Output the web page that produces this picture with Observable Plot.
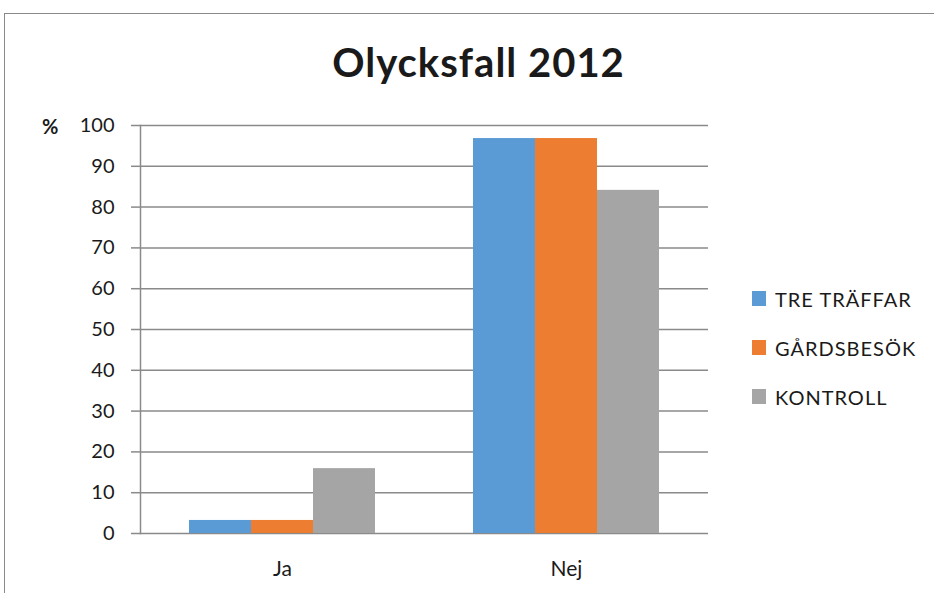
<!DOCTYPE html>
<html>
<head>
<meta charset="utf-8">
<script src="https://cdn.jsdelivr.net/npm/d3@7"></script>
<script src="https://cdn.jsdelivr.net/npm/@observablehq/plot@0.6"></script>
<style>
  body { margin: 0; background: #fff; font-family: Lato, "Open Sans", sans-serif; }
  #wrap { position: relative; width: 934px; height: 593px; overflow: hidden; background: #fff; }
  #border { position: absolute; left: 4px; top: 13px; width: 960px; height: 620px;
            border-left: 1.5px solid #8a8a8a; border-top: 1.5px solid #8a8a8a; pointer-events: none; }
  #title { position: absolute; left: 0; top: 0; width: 957px; height: 100px; text-align: center;
           font-weight: 700; font-size: 40px; line-height: 1; color: #1a1a1a; letter-spacing: 1px; }
  #title span { position: absolute; left: 0; right: 0; top: 42px; }
  #pct { position: absolute; left: 42px; top: 114px; font-weight: 700; font-size: 20px; color: #1a1a1a; }
  #chart { position: absolute; left: 0; top: 100px; }
  #legend { position: absolute; left: 752px; top: 274px; }
  .item { display: flex; align-items: center; height: 49px; }
  .sw { width: 14px; height: 15px; margin-right: 9px; flex: none; }
  .lab { font-size: 20px; color: #1a1a1a; letter-spacing: 1px; }
</style>
</head>
<body>
<div id="wrap">
  <div id="title"><span>Olycksfall 2012</span></div>
  <div id="pct">%</div>
  <div id="chart"></div>
  <div id="legend"></div>
  <div id="border"></div>
</div>
<script>
const categories = ["Ja", "Nej"];
const series = ["TRE TRÄFFAR", "GÅRDSBESÖK", "KONTROLL"];
const treTraffar = [3.2, 96.8];
const gardsbesok = [3.2, 96.8];
const kontroll = [15.9, 84.1];
const yTicks = [0, 10, 20, 30, 40, 50, 60, 70, 80, 90, 100];
const colors = ["#5B9BD5", "#ED7D31", "#A5A5A5"];

const seriesValues = [treTraffar, gardsbesok, kontroll];
const table = [];
categories.forEach((c, i) => {
  series.forEach((s, j) => table.push({category: c, series: s, value: seriesValues[j][i]}));
});

const gridColor = "#8a8a8a";

const chart = Plot.plot({
  width: 934,
  height: 493,
  marginLeft: 139,
  marginRight: 226,
  marginTop: 25,
  marginBottom: 60,
  style: {fontFamily: "Lato, 'Open Sans', sans-serif", fontSize: "20px", color: "#1a1a1a", background: "transparent", overflow: "visible"},
  fx: {domain: categories, paddingInner: 0, paddingOuter: 0, label: null},
  x: {domain: series, paddingInner: 0, paddingOuter: 0.78, axis: null},
  y: {domain: [0, 100], label: null, axis: null},
  color: {domain: series, range: colors},
  marks: [
    Plot.gridY(yTicks, {stroke: gridColor, strokeOpacity: 1, strokeWidth: 1.5}),
    Plot.barY(table, {fx: "category", x: "series", y: "value", fill: "series"}),
    Plot.frame({anchor: "left", stroke: gridColor, strokeWidth: 1.5, facetAnchor: "left"}),
    Plot.axisY(yTicks, {anchor: "left", tickSize: 9, tickPadding: 17, stroke: gridColor, strokeWidth: 1.5, fill: "#1a1a1a", fontSize: 20, label: null}),
    Plot.axisFx({anchor: "bottom", tickSize: 0, tickPadding: 28, fontSize: 21, fill: "#1a1a1a", label: null, style: {letterSpacing: "1px"}})
  ]
});
document.getElementById("chart").appendChild(chart);

const legend = document.getElementById("legend");
series.forEach((s, i) => {
  const item = document.createElement("div");
  item.className = "item";
  const sw = document.createElement("div");
  sw.className = "sw";
  sw.style.background = colors[i];
  const lab = document.createElement("span");
  lab.className = "lab";
  lab.textContent = s;
  item.appendChild(sw);
  item.appendChild(lab);
  legend.appendChild(item);
});
</script>
</body>
</html>
